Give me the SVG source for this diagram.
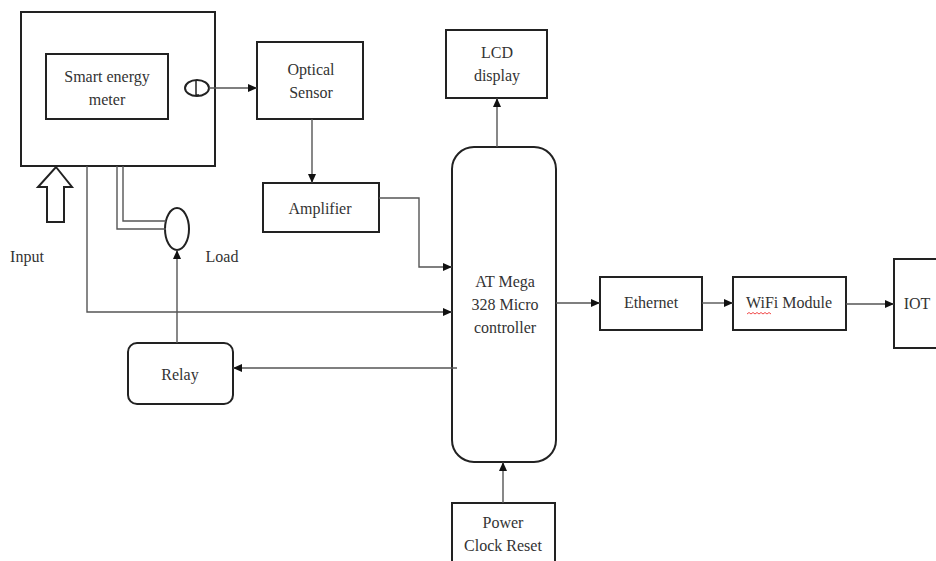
<svg xmlns="http://www.w3.org/2000/svg" width="936" height="561" viewBox="0 0 936 561">
<style>
.box{fill:#fff;stroke:#222;stroke-width:2}
.ln{fill:none;stroke:#555;stroke-width:1.4}
.t{font-family:"Liberation Serif","Times New Roman",serif;font-size:16px;fill:#333;text-anchor:middle}
</style>
<defs>
<marker id="ah" markerUnits="userSpaceOnUse" markerWidth="10" markerHeight="10" viewBox="0 0 10 10" refX="9" refY="5" orient="auto">
<path d="M0 1 L9 5 L0 9 Z" fill="#111"/>
</marker>
</defs>
<rect width="936" height="561" fill="#fff"/>
<g id="meter-enclosure">
<rect class="box" x="21" y="12" width="194" height="154"/>
</g>
<g id="smart-meter">
<rect class="box" x="46" y="54" width="122" height="65"/>
<text class="t" x="107" y="82">Smart energy</text>
<text class="t" x="107" y="105">meter</text>
</g>
<g id="led-sensor">
<ellipse cx="197" cy="88" rx="12" ry="8" fill="#fff" stroke="#222" stroke-width="2"/>
<path d="M196 81 V95 H199" fill="none" stroke="#222" stroke-width="1.5"/>
</g>
<g id="input">
<polygon points="56,167 72,187 64,187 64,222 47,222 47,187 38,187" fill="#fff" stroke="#222" stroke-width="2"/>
<text class="t" x="27" y="262">Input</text>
</g>
<g id="load">
<ellipse cx="177" cy="229" rx="12" ry="21" fill="#fff" stroke="#222" stroke-width="2"/>
<text class="t" x="222" y="262">Load</text>
</g>
<g id="optical-sensor">
<rect class="box" x="257" y="42" width="106" height="77"/>
<text class="t" x="311" y="75">Optical</text>
<text class="t" x="311" y="98">Sensor</text>
</g>
<g id="amplifier">
<rect class="box" x="263" y="183" width="116" height="49"/>
<text class="t" x="320" y="214">Amplifier</text>
</g>
<g id="lcd">
<rect class="box" x="446" y="30" width="101" height="68"/>
<text class="t" x="497" y="58">LCD</text>
<text class="t" x="497" y="81">display</text>
</g>
<g id="controller">
<rect class="box" x="452" y="147" width="104" height="315" rx="22" ry="22"/>
<text class="t" x="505" y="287">AT Mega</text>
<text class="t" x="505" y="310">328 Micro</text>
<text class="t" x="505" y="333">controller</text>
</g>
<g id="relay">
<rect class="box" x="128" y="343" width="105" height="61" rx="9" ry="9"/>
<text class="t" x="180" y="380">Relay</text>
</g>
<g id="ethernet">
<rect class="box" x="600" y="277" width="102" height="53"/>
<text class="t" x="651" y="308">Ethernet</text>
</g>
<g id="wifi">
<rect class="box" x="733" y="277" width="113" height="53"/>
<text class="t" x="789" y="308">WiFi Module</text>
<path d="M747 314 l2 -1.5 l2 1.5 l2 -1.5 l2 1.5 l2 -1.5 l2 1.5 l2 -1.5 l2 1.5 l2 -1.5 l2 1.5 l2 -1.5 l2 1.5" fill="none" stroke="#e33" stroke-width="0.9"/>
</g>
<g id="iot">
<rect class="box" x="894" y="259" width="50" height="89"/>
<text class="t" x="917" y="309">IOT</text>
</g>
<g id="power">
<rect class="box" x="452" y="503" width="103" height="70"/>
<text class="t" x="503" y="528">Power</text>
<text class="t" x="503" y="551">Clock Reset</text>
</g>
<g id="connectors">
<path class="ln" d="M209 88 H257" marker-end="url(#ah)"/>
<path class="ln" d="M312 119 V183" marker-end="url(#ah)"/>
<path class="ln" d="M379 198 H419 V267 H452" marker-end="url(#ah)"/>
<path class="ln" d="M87 166 V312 H452" marker-end="url(#ah)"/>
<path class="ln" d="M117 166 V229 H166"/>
<path class="ln" d="M123 166 V221 H166"/>
<path class="ln" d="M177 343 V250" marker-end="url(#ah)"/>
<path class="ln" d="M457 368 H233" marker-end="url(#ah)"/>
<path class="ln" d="M497 147 V98" marker-end="url(#ah)"/>
<path class="ln" d="M556 303 H600" marker-end="url(#ah)"/>
<path class="ln" d="M702 303 H733" marker-end="url(#ah)"/>
<path class="ln" d="M846 304 H894" marker-end="url(#ah)"/>
<path class="ln" d="M503 503 V462" marker-end="url(#ah)"/>
</g>
</svg>
